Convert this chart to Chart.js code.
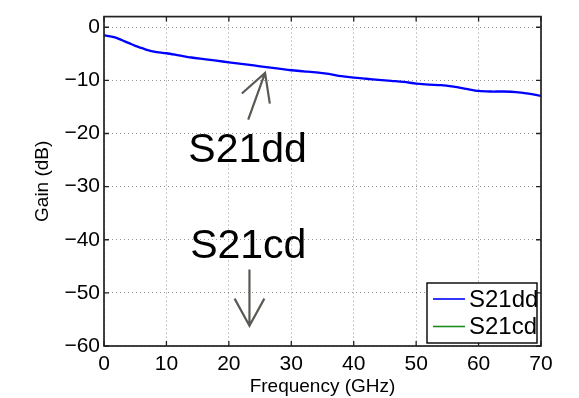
<!DOCTYPE html>
<html>
<head>
<meta charset="utf-8">
<script src="https://cdn.jsdelivr.net/npm/chart.js@4.4.0/dist/chart.umd.min.js"></script>
<style>
  html, body { margin: 0; padding: 0; background: #fff; }
  #wrap { width: 579px; height: 398px; }
</style>
</head>
<body>
<div id="wrap"><canvas id="gainChart" width="579" height="398"></canvas></div>
<script>
// frequency (GHz) and measured gain (dB)
const freq = [0, 1, 2, 3, 4, 5, 6, 7, 8, 10, 12, 14, 16, 18, 20, 22, 24, 26, 28, 30,
  32, 34, 36, 38, 40, 42, 44, 46, 48, 50, 52, 54, 56, 58, 60, 62, 64, 66, 68, 70];
const s21dd = [-1.5, -1.7, -2.0, -2.5, -3.0, -3.5, -3.9, -4.3, -4.6, -4.9, -5.3, -5.7, -6.0, -6.3, -6.6, -6.9, -7.2, -7.5, -7.8, -8.1,
  -8.3, -8.5, -8.8, -9.2, -9.5, -9.7, -9.9, -10.1, -10.3, -10.6, -10.8, -10.9, -11.2, -11.6, -12.0, -12.1, -12.1, -12.2, -12.5, -12.9];
// S21cd sits below the visible range (arrow points off the bottom)
const s21cd = [-68, -70, -71, -69, -72, -70, -73, -71, -72, -74, -72, -73, -75, -73, -74, -76, -74, -75, -77, -75,
  -76, -74, -77, -75, -78, -76, -77, -79, -77, -78, -76, -79, -77, -80, -78, -79, -81, -79, -80, -82];
const xTicks = [0, 10, 20, 30, 40, 50, 60, 70];
const yTicks = [-60, -50, -40, -30, -20, -10, 0];

const FONT = "'Liberation Sans', Arial, sans-serif";
const fmt = v => (v < 0 ? "\u2212" + Math.abs(v) : String(v));

const framePlugin = {
  id: "frame",
  afterDraw(chart) {
    const { ctx, chartArea: a, scales: { x, y } } = chart;
    ctx.save();
    // box
    ctx.strokeStyle = "#222";
    ctx.lineWidth = 1.7;
    ctx.strokeRect(a.left, a.top, a.right - a.left, a.bottom - a.top);
    // inward ticks on all four sides
    ctx.lineWidth = 1.3;
    ctx.beginPath();
    xTicks.forEach(t => {
      const px = x.getPixelForValue(t);
      ctx.moveTo(px, a.bottom); ctx.lineTo(px, a.bottom - 5);
      ctx.moveTo(px, a.top); ctx.lineTo(px, a.top + 5);
    });
    yTicks.forEach(t => {
      const py = y.getPixelForValue(t);
      ctx.moveTo(a.left, py); ctx.lineTo(a.left + 5, py);
      ctx.moveTo(a.right, py); ctx.lineTo(a.right - 5, py);
    });
    ctx.stroke();

    // annotations
    const arrow = (x0, y0, x1, y1) => {
      const p0 = [x.getPixelForValue(x0), y.getPixelForValue(y0)];
      const p1 = [x.getPixelForValue(x1), y.getPixelForValue(y1)];
      const ang = Math.atan2(p1[1] - p0[1], p1[0] - p0[0]);
      const len = 31, spread = 0.5;
      ctx.beginPath();
      ctx.moveTo(p0[0], p0[1]); ctx.lineTo(p1[0], p1[1]);
      ctx.moveTo(p1[0] - len * Math.cos(ang - spread), p1[1] - len * Math.sin(ang - spread));
      ctx.lineTo(p1[0], p1[1]);
      ctx.lineTo(p1[0] - len * Math.cos(ang + spread), p1[1] - len * Math.sin(ang + spread));
      ctx.stroke();
    };
    ctx.strokeStyle = "rgb(90,90,84)";
    ctx.lineWidth = 2.2;
    ctx.lineJoin = "miter";
    arrow(23.1, -17.4, 25.8, -8.6);
    arrow(23.3, -45.6, 23.3, -56.2);

    ctx.fillStyle = "#000";
    ctx.font = "41px " + FONT;
    ctx.textBaseline = "alphabetic";
    ctx.textAlign = "left";
    ctx.fillText("S21dd", x.getPixelForValue(13.5), y.getPixelForValue(-25.3));
    ctx.fillText("S21cd", x.getPixelForValue(13.8), y.getPixelForValue(-43.5));

    // legend box in the lower right corner
    const lw = 110, lh = 60;
    const lx = a.right - lw - 4, ly = a.bottom - lh - 3;
    ctx.fillStyle = "#fff";
    ctx.fillRect(lx, ly, lw, lh);
    ctx.strokeStyle = "#000";
    ctx.lineWidth = 1.4;
    ctx.strokeRect(lx, ly, lw, lh);
    ctx.save();
    ctx.beginPath();
    ctx.rect(lx, ly, lw, lh);
    ctx.clip();
    const items = [["S21dd", "#0000ff"], ["S21cd", "rgb(30,140,30)"]];
    items.forEach((it, i) => {
      const yy = ly + 16 + i * 27.5;
      ctx.strokeStyle = it[1];
      ctx.lineWidth = 1.6;
      ctx.beginPath(); ctx.moveTo(lx + 6, yy); ctx.lineTo(lx + 38, yy); ctx.stroke();
      ctx.fillStyle = "#000";
      ctx.font = "24px " + FONT;
      ctx.textBaseline = "middle";
      ctx.fillText(it[0], lx + 42, yy + 1);
    });
    ctx.restore();
    ctx.restore();
  }
};

new Chart(document.getElementById("gainChart"), {
  type: "line",
  data: {
    labels: freq,
    datasets: [
      { label: "S21dd", data: freq.map((f, i) => ({ x: f, y: s21dd[i] })), borderColor: "#0000ff", borderWidth: 2.3, pointRadius: 0, tension: 0.3 },
      { label: "S21cd", data: freq.map((f, i) => ({ x: f, y: s21cd[i] })), borderColor: "rgb(30,140,30)", borderWidth: 2, pointRadius: 0, tension: 0.3 }
    ]
  },
  options: {
    responsive: false,
    animation: false,
    layout: { padding: { top: 15, right: 38, left: 0, bottom: 0 } },
    plugins: { legend: { display: false }, tooltip: { enabled: false } },
    scales: {
      x: {
        type: "linear", min: 0, max: 70,
        afterBuildTicks: s => { s.ticks = xTicks.map(v => ({ value: v })); },
        afterFit: s => { s.height = 52; },
        grid: { color: "rgba(120,120,120,0.8)", lineWidth: 1, drawTicks: false },
        border: { display: false, dash: [1, 3] },
        ticks: { color: "#000", font: { family: FONT, size: 21 }, padding: 6, maxRotation: 0, callback: v => fmt(v) },
        title: { display: true, text: "Frequency (GHz)", color: "#000", font: { family: FONT, size: 19 }, padding: { top: 0, bottom: 0 } }
      },
      y: {
        type: "linear", min: -60, max: 2,
        afterBuildTicks: s => { s.ticks = yTicks.map(v => ({ value: v })); },
        afterFit: s => { s.width = 104; },
        grid: { color: "rgba(120,120,120,0.8)", lineWidth: 1, drawTicks: false },
        border: { display: false, dash: [1, 3] },
        ticks: { color: "#000", font: { family: FONT, size: 21 }, padding: 4, callback: v => fmt(v) },
        title: { display: true, text: "Gain (dB)", color: "#000", font: { family: FONT, size: 19 }, padding: { top: 31, bottom: 0 } }
      }
    }
  },
  plugins: [framePlugin]
});
</script>
</body>
</html>
